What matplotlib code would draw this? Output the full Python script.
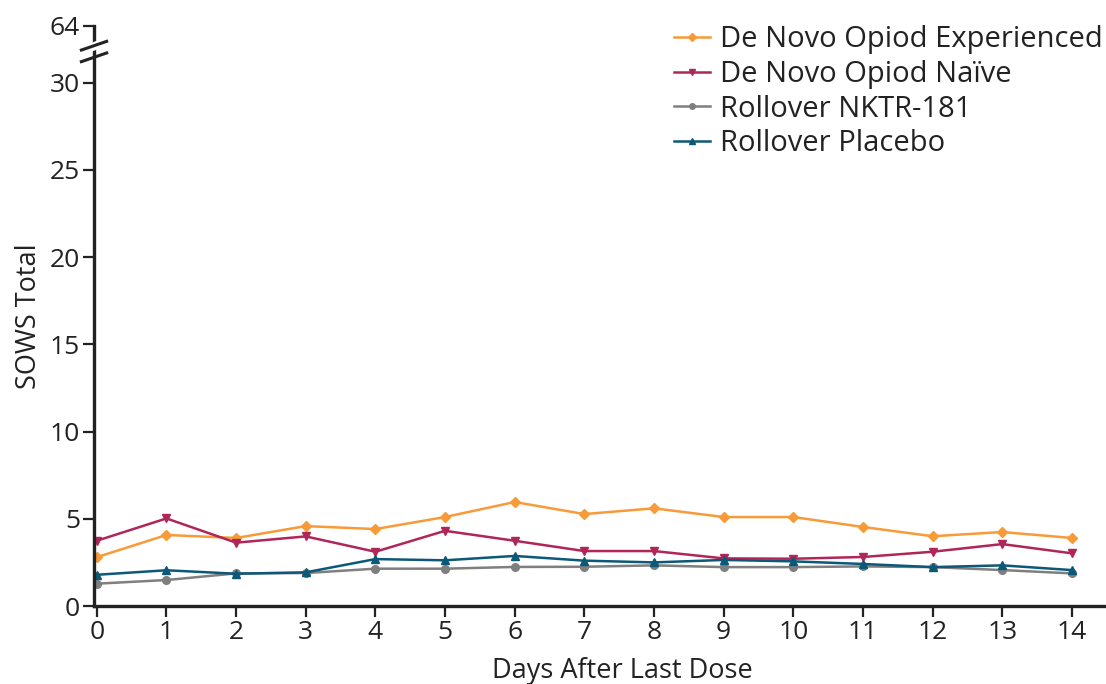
import matplotlib
matplotlib.use("Agg")
import matplotlib.pyplot as plt

plt.rcParams["font.family"] = ["Open Sans", "DejaVu Sans"]

days = list(range(15))
experienced = [2.8, 4.07, 3.9, 4.58, 4.41, 5.1, 5.96, 5.27, 5.6, 5.1, 5.1, 4.53, 4.0, 4.24, 3.9]
naive = [3.74, 5.02, 3.63, 3.99, 3.11, 4.31, 3.74, 3.15, 3.15, 2.73, 2.71, 2.81, 3.11, 3.55, 3.02]
nktr = [1.28, 1.49, 1.87, 1.89, 2.14, 2.14, 2.24, 2.25, 2.33, 2.23, 2.23, 2.27, 2.23, 2.06, 1.87]
placebo = [1.79, 2.05, 1.85, 1.93, 2.69, 2.62, 2.87, 2.6, 2.5, 2.64, 2.56, 2.41, 2.23, 2.33, 2.06]

# broken axis: the "64" tick sits just above 30 on a compressed scale
top_pos = 33.24
ytick_pos = [0, 5, 10, 15, 20, 25, 30, top_pos]
ytick_lab = ["0", "5", "10", "15", "20", "25", "30", "64"]

series = [
    ("De Novo Opiod Experienced", experienced, "#f89a38", "D"),
    ("De Novo Opiod Naïve", naive, "#b02658", "v"),
    ("Rollover NKTR-181", nktr, "#7f7f7f", "o"),
    ("Rollover Placebo", placebo, "#0c5878", "^"),
]

fig = plt.figure(figsize=(11.06, 6.84), dpi=100)
ax = fig.add_axes([0.085, 0.114, 0.915, 0.848])

for name, vals, col, mk in series:
    ax.plot(days, vals, color=col, lw=1.8, marker=mk, ms=5.5, label=name)

ax.set_xlim(-0.04, 14.49)
ax.set_ylim(0, top_pos)
ax.set_xticks(days)
ax.set_yticks(ytick_pos)
ax.set_yticklabels(ytick_lab)
ax.tick_params(axis="both", labelsize=19, width=1.6, length=8, color="#222222",
               labelcolor="#222222", pad=2)
for sp in ("top", "right"):
    ax.spines[sp].set_visible(False)
for sp in ("left", "bottom"):
    ax.spines[sp].set_linewidth(2.4)
    ax.spines[sp].set_color("#222222")

ax.set_xlabel("Days After Last Dose", fontsize=19.5, color="#222222")
ax.xaxis.set_label_coords(0.522, -0.088)
ax.set_ylabel("SOWS Total", fontsize=19.5, color="#222222", labelpad=5)

# break marks on the y spine
ax.plot([-0.012, 0.012], [0.957, 0.973], transform=ax.transAxes, color="white",
        lw=6, clip_on=False, zorder=5)
for yc in (0.966, 0.946):
    ax.plot([-0.0125, 0.0125], [yc - 0.0075, yc + 0.0075], transform=ax.transAxes,
            color="#222222", lw=2.2, clip_on=False, zorder=6)

leg = ax.legend(loc="upper right", bbox_to_anchor=(1.008, 1.021), frameon=False,
                fontsize=21, handlelength=1.24, handletextpad=0.34, labelspacing=0.19,
                borderaxespad=0.0)
for h in leg.legend_handles:
    h.set_markersize(4)
for t in leg.get_texts():
    t.set_color("#222222")

fig.savefig("out.png", dpi=100)
